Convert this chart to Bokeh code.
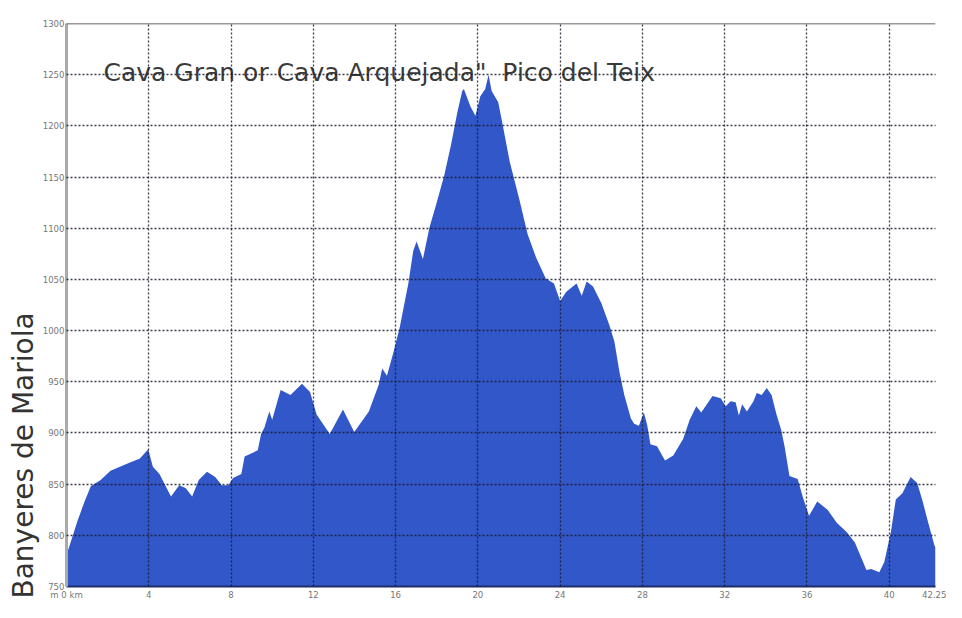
from bokeh.plotting import figure
from bokeh.models import FixedTicker, Span, Label, ColumnDataSource, Title
from bokeh.embed import file_html
from bokeh.resources import INLINE

km = [0, 0.1, 0.55, 0.86, 1.18, 1.66, 2.14, 2.94, 3.57, 3.97,
      4.2, 4.52, 5.08, 5.48, 5.8, 6.11, 6.43, 6.83, 7.23, 7.55,
      7.87, 8.1, 8.5, 8.66, 9.3, 9.46, 9.62, 9.86, 10.0, 10.41,
      10.89, 11.45, 11.6, 11.84, 12.16, 12.8, 13.44, 13.99, 14.7, 15.18,
      15.35, 15.58, 15.9, 16.2, 16.62, 16.86, 17.02, 17.33, 17.65, 17.97,
      18.37, 18.69, 19.0, 19.24, 19.32, 19.64, 19.88, 20.12, 20.36, 20.52,
      20.67, 20.99, 21.15, 21.55, 22.03, 22.42, 22.82, 23.3, 23.7, 24.0,
      24.3, 24.8, 25.05, 25.29, 25.6, 26.0, 26.4, 26.64, 26.88, 27.12,
      27.44, 27.6, 27.83, 28.07, 28.23, 28.39, 28.71, 29.1, 29.5, 29.98,
      30.3, 30.62, 30.86, 31.41, 31.81, 32.05, 32.29, 32.53, 32.69, 32.85,
      33.08, 33.4, 33.56, 33.8, 34.04, 34.28, 34.52, 34.75, 34.92, 35.15,
      35.55, 35.79, 36.1, 36.5, 37.0, 37.46, 37.94, 38.33, 38.73, 38.89,
      39.13, 39.52, 39.76, 40.08, 40.32, 40.64, 41.04, 41.36, 41.6, 41.9,
      42.2, 42.25]
elev = [782, 787, 815, 832, 848, 854, 863, 870, 875, 884,
        867, 860, 838, 849, 846, 838, 854, 862, 857, 849,
        849, 856, 860, 877, 883, 899, 905, 921, 913, 942,
        937, 948, 945, 940, 918, 899, 923, 901, 921, 947,
        963, 956, 979, 1003, 1046, 1078, 1087, 1070, 1101, 1123,
        1152, 1181, 1213, 1234, 1236, 1219, 1210, 1229, 1236, 1250,
        1234, 1223, 1207, 1165, 1127, 1094, 1072, 1051, 1046, 1029,
        1038, 1046, 1034, 1048, 1043, 1027, 1005, 989, 960, 937,
        914, 909, 907, 920, 908, 889, 887, 873, 878, 894,
        913, 926, 920, 936, 934, 926, 931, 930, 917, 928,
        921, 931, 939, 937, 944, 937, 918, 903, 886, 858,
        855, 838, 819, 833, 825, 812, 803, 793, 774, 766,
        767, 764, 774, 803, 835, 841, 857, 851, 835, 812,
        790, 788]

x_ticks = [0, 4, 8, 12, 16, 20, 24, 28, 32, 36, 40, 42.25]
x_tick_labels = {0: "m 0 km", 42.25: "42.25"}
y_ticks = [750, 800, 850, 900, 950, 1000, 1050, 1100, 1150, 1200, 1250, 1300]
title_text = 'Cava Gran or Cava Arquejada"\u00a0 Pico del Teix'
y_title = "Banyeres de Mariola"

base = [750] * len(km)
src = ColumnDataSource(dict(km=km, elev=elev, base=base))

p = figure(width=946, height=602, x_range=(0, 42.25), y_range=(750, 1300),
           output_backend="svg", toolbar_location=None,
           min_border_left=66, min_border_right=11, min_border_top=23,
           min_border_bottom=0)
p.outline_line_color = None
p.background_fill_color = "white"

p.varea(x="km", y1="base", y2="elev", source=src, fill_color="#3157c9")

# axes
for ax in (p.xaxis[0], p.yaxis[0]):
    ax.major_tick_line_color = None
    ax.major_tick_out = 0
    ax.major_tick_in = 0
    ax.minor_tick_line_color = None
    ax.minor_tick_out = 0
    ax.major_label_text_font = "DejaVu Sans Condensed"
    ax.major_label_text_font_size = "9.5px"
    ax.major_label_text_color = "#777777"
    ax.major_label_standoff = 2

p.xaxis.ticker = FixedTicker(ticks=x_ticks)
p.xaxis.major_label_overrides = x_tick_labels
p.xaxis.axis_line_color = "#1f2d6b"
p.xaxis.axis_line_width = 2

p.yaxis.ticker = FixedTicker(ticks=y_ticks)
p.yaxis.axis_line_color = "#aaaaaa"
p.yaxis.axis_line_width = 3

# dotted grid drawn over the fill
for g in (p.xgrid[0], p.ygrid[0]):
    g.grid_line_color = "#1a1a2a"
    g.grid_line_dash = "2 2"
    g.grid_line_width = 1.3
    g.grid_line_alpha = 0.85
    g.level = "overlay"
p.xgrid.ticker = FixedTicker(ticks=x_ticks[1:-1])
p.ygrid.ticker = FixedTicker(ticks=y_ticks[:-1])

p.add_layout(Span(location=1300, dimension="width", line_color="#333333",
                  line_width=1.5))

p.add_layout(Label(x=1.8, y=1252, text=title_text, text_font="DejaVu Sans",
                   text_font_size="25px", text_color="#3a3a3a",
                   text_baseline="middle", text_align="left"))

# vertical title on the left, starting at the bottom of the frame
p.add_layout(Title(text=y_title, text_font="DejaVu Sans",
                   text_font_size="28px", text_color="#333333",
                   text_font_style="normal", align="left", offset=-12,
                   standoff=0), "left")

open("out.html", "w").write(file_html(p, INLINE))
